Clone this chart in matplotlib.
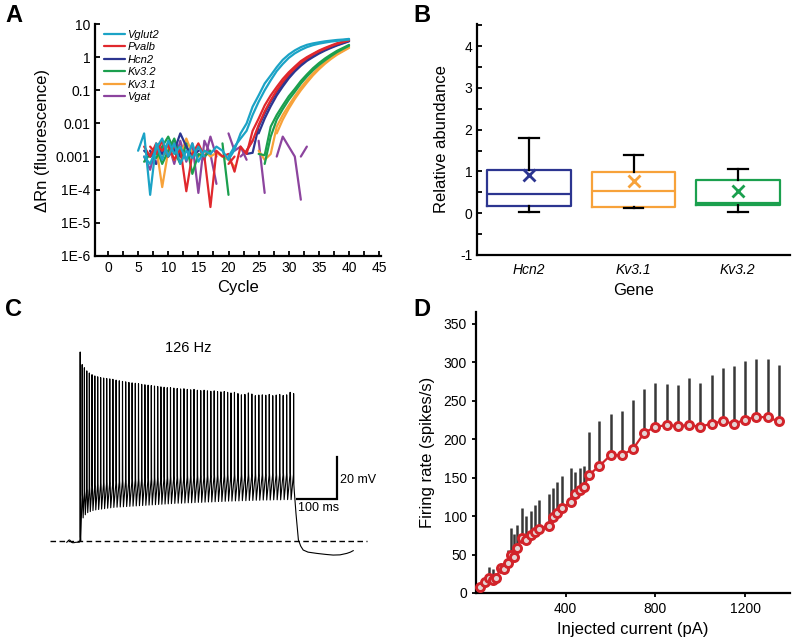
import numpy as np
import matplotlib
matplotlib.use("Agg")
import matplotlib.pyplot as plt
from matplotlib.ticker import MultipleLocator, FixedLocator, NullLocator

plt.rcParams['font.family'] = ['Liberation Sans', 'DejaVu Sans']
plt.rcParams['axes.unicode_minus'] = False
nan = np.nan

# ---------------- Panel A data (ΔRn per cycle, cycles 5..40) ----------------
cycles = list(range(5, 41))
vglut2_a = [1.5e-3, 5e-3, 7e-5, 2.5e-3, 8e-4, 3e-3, 1.2e-3, 2e-3, 8e-4, 2.5e-3, 7e-4, 1.5e-3, 1.2e-3, 2e-3,
            1.5e-3, 8e-4, 1.6e-3, 5e-3, 1e-2, 3.2e-2, 7e-2, 0.16, 0.28, 0.5, 0.83, 1.2, 1.6, 2.0, 2.35, 2.6,
            2.8, 3.0, 3.15, 3.3, 3.4, 3.55]
vglut2_b = [nan, 1e-3, 6e-4, 1.8e-3, 3.5e-3, 1e-3, 2.5e-3, 6e-4, 1.5e-3, 9e-4, 2e-3, 1e-3, nan, nan,
            nan, 1e-3, 2e-3, 3.5e-3, 6e-3, 1.8e-2, 4.5e-2, 0.1, 0.2, 0.38, 0.62, 0.95, 1.3, 1.65, 2.0, 2.3,
            2.55, 2.75, 2.95, 3.1, 3.25, 3.4]
pvalb_a = [nan, 2e-3, 1e-3, 2.5e-3, 1.5e-3, 2.2e-3, 8e-4, 1.8e-3, 9e-5, 1.2e-3, 2.5e-3, 1e-3, 3e-5, 1.5e-3,
           1e-3, 1.2e-3, 3.5e-4, 2e-3, 1.2e-3, 6e-3, 1.4e-2, 3.5e-2, 7e-2, 0.126, 0.22, 0.35, 0.52, 0.76, 1.0,
           1.26, 1.58, 1.9, 2.24, 2.63, 2.95, 3.3]
pvalb_b = [nan, nan, 2e-3, 1.2e-3, 3e-3, 1e-3, 2e-3, nan, nan, nan, nan, nan, nan, nan,
           nan, 6e-4, 1e-3, nan, 1.5e-3, 3e-3, 9e-3, 2.3e-2, 5e-2, 0.1, 0.18, 0.3, 0.46, 0.68, 0.92,
           1.2, 1.5, 1.8, 2.15, 2.5, 2.85, 3.2]
hcn2_a = [nan, 1.5e-3, 1e-3, 2e-3, 1.2e-3, 2.5e-3, 1.5e-3, 5e-3, 2e-3, 1e-3, 1.5e-3, nan, nan, nan,
          nan, nan, nan, nan, 1.2e-3, 1.3e-3, 8e-3, 2e-2, 4.5e-2, 8.9e-2, 0.16, 0.27, 0.42, 0.6, 0.83,
          1.07, 1.35, 1.66, 2.0, 2.34, 2.7, 3.1]
hcn2_b = [nan, nan, 1.5e-3, 6e-4, nan, 1e-3, 2e-3, 1e-3, nan, nan, nan, nan, nan, nan,
          nan, nan, nan, nan, nan, nan, 5e-3, 1.4e-2, 3.3e-2, 7e-2, 0.13, 0.23, 0.37, 0.55, 0.77,
          1.0, 1.28, 1.58, 1.9, 2.25, 2.6, 3.0]
kv32_a = [nan, 7e-4, 1.2e-3, 9e-4, 2e-3, 4e-3, 1.5e-3, 6e-4, 2.5e-3, 3e-4, 1.2e-3, 1e-3, 1.5e-3, nan,
          2.5e-3, 7e-5, nan, nan, nan, nan, 1.2e-3, 1.1e-3, 8e-3, 1.8e-2, 3.5e-2, 6.6e-2, 0.11, 0.19, 0.3,
          0.46, 0.66, 0.91, 1.2, 1.55, 1.9, 2.34]
kv32_b = [nan, nan, 1e-3, 2e-3, 6e-4, 1.5e-3, 3.5e-3, 1e-3, nan, nan, nan, nan, nan, nan,
          nan, nan, nan, nan, nan, nan, nan, 6e-4, 4e-3, 1.3e-2, 2.7e-2, 5.2e-2, 9e-2, 0.16, 0.26,
          0.4, 0.58, 0.8, 1.08, 1.42, 1.78, 2.2]
kv31_a = [nan, nan, 1e-3, 2e-3, 1.2e-4, 1.5e-3, 2.5e-3, 1e-3, 3.5e-3, 1.2e-3, 1e-3, 1.5e-3, 1e-3, 1.3e-3,
          1e-3, 8e-4, 5e-4, nan, nan, nan, 1.5e-3, 8e-4, 1.2e-3, 8e-3, 1.8e-2, 3.5e-2, 6.6e-2, 0.12, 0.2,
          0.32, 0.48, 0.69, 0.95, 1.26, 1.58, 2.0]
kv31_b = [nan, nan, nan, nan, 1e-3, 2e-3, 8e-4, 1.5e-3, nan, nan, nan, nan, nan, nan,
          nan, nan, nan, nan, nan, nan, nan, nan, nan, 5e-3, 1.3e-2, 2.8e-2, 5.5e-2, 0.1, 0.17,
          0.28, 0.43, 0.63, 0.88, 1.18, 1.5, 1.9]
vgat_a = [nan, 1e-3, 4e-4, 2e-3, 1.2e-3, 2.5e-3, 6e-4, 3e-3, 7e-4, 2.5e-3, 8e-5, 3e-3, 1.2e-3, 1.5e-4,
          nan, 5e-3, 1.5e-3, 2e-3, 8e-4, nan, 3e-3, 8e-5, nan, 1e-3, 4e-3, 2e-3, 1e-3, 5e-5, nan,
          nan, nan, nan, nan, nan, nan, nan]
vgat_b = [nan, nan, 1.5e-3, 6e-4, 2e-3, 1e-3, 3e-3, 1.5e-3, nan, 1e-3, 2e-3, 8e-4, 4e-3, 1e-3,
          nan, nan, nan, 1e-3, 1.5e-3, 3e-3, nan, nan, 1e-3, nan, nan, nan, nan, 1e-3, 2e-3,
          nan, nan, nan, nan, nan, nan, nan]

genes_a = ['Vglut2', 'Pvalb', 'Hcn2', 'Kv3.2', 'Kv3.1', 'Vgat']
gene_colors = {'Vglut2': '#1ba3c6', 'Pvalb': '#e0282d', 'Hcn2': '#2c3590',
               'Kv3.2': '#1b9f4e', 'Kv3.1': '#f7a23a', 'Vgat': '#8c449e'}
series_a = {'Vglut2': [vglut2_a, vglut2_b], 'Pvalb': [pvalb_a, pvalb_b], 'Hcn2': [hcn2_a, hcn2_b],
            'Kv3.2': [kv32_a, kv32_b], 'Kv3.1': [kv31_a, kv31_b], 'Vgat': [vgat_a, vgat_b]}
ytick_vals_a = [1e-6, 1e-5, 1e-4, 1e-3, 1e-2, 1e-1, 1, 10]
ytick_labels_a = ['1E-6', '1E-5', '1E-4', '0.001', '0.01', '0.1', '1', '10']

# ---------------- Panel B data ----------------
genes_b = ['Hcn2', 'Kv3.1', 'Kv3.2']
b_q1 = [0.18, 0.15, 0.20]
b_med = [0.45, 0.53, 0.25]
b_q3 = [1.03, 0.99, 0.80]
b_lo = [0.02, 0.13, 0.03]
b_hi = [1.80, 1.40, 1.05]
b_mean = [0.92, 0.77, 0.53]
b_colors = ['#2c3590', '#f7a23a', '#1ba04e']

# ---------------- Panel C data (membrane potential trace) ----------------
isi_ms = [5.0, 5.5, 6.0, 6.4, 6.7, 7.0, 7.2, 7.4, 7.5, 7.6, 7.7, 7.8,
          8.0, 8.0, 8.0, 8.0, 8.0, 8.0, 8.0, 8.0, 8.0, 8.0, 8.0, 8.0, 8.0, 8.0, 8.0, 8.0, 8.0, 8.0,
          8.4, 8.4, 8.4, 8.4, 8.4, 8.4, 8.4, 8.4, 8.4, 8.4, 8.4, 8.4, 8.4, 8.4, 8.4, 8.4, 8.4, 8.4,
          8.7, 8.7, 8.7, 8.7, 8.7, 8.7, 8.7, 8.7, 8.7, 8.7, 8.7, 8.7, 8.7, 8.7, 8.7, 8.7, 8.7, 8.7]
spike_peak = [25, 19, 17.5, 16, 15, 14.2, 13.6, 13.2, 12.8, 12.6,
              12.4, 12.2, 12, 11.6, 11.3, 11, 10.8, 10.5, 10.3, 10.1,
              9.9, 9.6, 9.4, 9.2, 9.0, 8.8, 8.6, 8.4, 8.2, 8.0,
              8.0, 7.8, 7.6, 7.4, 7.5, 7.2, 7.0, 7.2, 6.8, 6.6,
              6.8, 6.5, 6.3, 6.5, 6.2, 6.0, 6.2, 5.8, 5.5, 5.8,
              5.2, 4.6, 4.8, 5.5, 5.0, 4.2, 4.5, 4.6, 4.4, 4.8,
              4.2, 4.5, 4.8, 4.3, 4.6, 5.8, 5.2]
spike_trough = [-58, -54, -52.5, -51.5, -51, -50.5, -50.2, -50, -49.8, -49.6,
                -49.4, -49.2, -49, -48.9, -48.8, -48.7, -48.6, -48.5, -48.4, -48.3,
                -48.2, -48.1, -48, -47.9, -47.8, -47.7, -47.6, -47.5, -47.4, -47.3,
                -47.2, -47.1, -47, -47, -46.9, -46.8, -46.8, -46.7, -46.6, -46.6,
                -46.5, -46.4, -46.4, -46.3, -46.2, -46.2, -46.1, -46, -46, -45.9,
                -45.9, -45.8, -45.8, -45.7, -45.7, -45.6, -45.6, -45.5, -45.5, -45.5,
                -45.4, -45.4, -45.4, -45.3, -45.3, -45.3, -45.2]
spike_thr = [-64, -44, -42, -41, -40, -39.5, -39, -38.6, -38.3, -38,
             -37.8, -37.6, -37.4, -37.2, -37, -36.8, -36.6, -36.4, -36.3, -36.2,
             -36.1, -36, -35.9, -35.8, -35.7, -35.6, -35.5, -35.4, -35.3, -35.2,
             -35.1, -35, -35, -34.9, -34.8, -34.8, -34.7, -34.6, -34.6, -34.5,
             -34.5, -34.4, -34.4, -34.3, -34.3, -34.2, -34.2, -34.1, -34.1, -34,
             -34, -34, -33.9, -33.9, -33.8, -33.8, -33.8, -33.7, -33.7, -33.7,
             -33.6, -33.6, -33.6, -33.5, -33.5, -33.5, -33.4]
pre_t = [-33, -30, -28, -26, -24, -22, -19, -15, -10, -5, -1]
pre_v = [-65.6, -65.0, -64.6, -64.5, -64.9, -65.5, -65.8, -65.8, -65.6, -65.6, -65.5]
post_t = [536, 540, 546, 552, 558, 570, 592, 615, 633, 650, 667, 676, 683]
post_v = [-42, -52, -64.5, -67.5, -69.3, -70.3, -70.9, -71.4, -71.7, -71.6, -70.9, -70.3, -69.6]
baseline_mv = -65

# ---------------- Panel D data ----------------
current_pa = [20, 42, 60, 76, 88, 110, 124, 143, 154, 168, 183, 204, 225, 243, 262, 283, 324, 342, 361,
              382, 424, 443, 462, 483, 502, 550, 600, 650, 700, 750, 800, 850, 900, 950, 1000, 1050,
              1100, 1150, 1200, 1250, 1300, 1350]
rate_mean = [8, 14, 20, 17, 19, 32, 31, 39, 50, 47, 58, 72, 69, 75, 79, 83, 87, 99, 104,
             110, 118, 128, 134, 138, 153, 165, 179, 179, 187, 208, 216, 218, 217, 218, 216, 220,
             223, 220, 225, 229, 228, 223]
rate_upper = [10, 18, 34, 31, 21, 34, 33, 56, 85, 77, 88, 110, 100, 106, 114, 121, 129, 137, 144,
              152, 162, 157, 162, 165, 209, 224, 233, 237, 251, 265, 273, 272, 270, 279, 273, 283,
              292, 295, 302, 304, 304, 296]

# ============================================================================
W, H = 794, 639
fig = plt.figure(figsize=(W / 100, H / 100), dpi=100)


def ax_px(l, t, r, b):
    return fig.add_axes([l / W, 1 - b / H, (r - l) / W, (b - t) / H])


TICK_FS = 10
LAB_FS = 12
SPW = 1.6


def style_spines(ax):
    for s in ['top', 'right']:
        ax.spines[s].set_visible(False)
    for s in ['left', 'bottom']:
        ax.spines[s].set_linewidth(SPW)


# ---------------- Panel A ----------------
axA = ax_px(95, 24, 381, 256)
style_spines(axA)
handles = []
for g in reversed(genes_a):
    for k, ser in enumerate(series_a[g]):
        ln, = axA.plot(cycles, ser, color=gene_colors[g], lw=1.6, solid_capstyle='round')
        if k == 0:
            handles.append((g, ln))
hd = dict(handles)
axA.set_yscale('log')
axA.set_ylim(1e-6, 10)
axA.set_xlim(-2.15, 45.3)
axA.yaxis.set_major_locator(FixedLocator(ytick_vals_a))
axA.set_yticklabels(ytick_labels_a)
axA.yaxis.set_minor_locator(NullLocator())
axA.xaxis.set_major_locator(MultipleLocator(5))
axA.xaxis.set_minor_locator(MultipleLocator(2.5))
axA.tick_params(which='both', direction='in', length=3.5, width=1.3, labelsize=TICK_FS)
axA.set_xlabel('Cycle', fontsize=LAB_FS)
axA.set_ylabel('\u0394Rn (fluorescence)', fontsize=LAB_FS)
axA.legend([hd[g] for g in genes_a], genes_a, loc='upper left', bbox_to_anchor=(0.03, 0.975),
           frameon=False, prop={'style': 'italic', 'size': 8}, handlelength=1.9,
           handletextpad=0.25, labelspacing=0.22, borderpad=0, borderaxespad=0)

# ---------------- Panel B ----------------
axB = ax_px(477, 24, 790, 255)
style_spines(axB)
stats = []
for i, g in enumerate(genes_b):
    stats.append(dict(label=g, q1=b_q1[i], med=b_med[i], q3=b_q3[i], whislo=b_lo[i],
                      whishi=b_hi[i], mean=b_mean[i], fliers=[]))
pos = [1, 2, 3]
bp = axB.bxp(stats, positions=pos, widths=0.8, showmeans=True, showfliers=False,
             whiskerprops=dict(color='black', lw=1.6), capprops=dict(color='black', lw=1.6),
             boxprops=dict(lw=1.6), medianprops=dict(lw=1.6),
             meanprops=dict(marker='x', markersize=9, markeredgewidth=2), capwidths=0.19)
for i in range(3):
    c = b_colors[i]
    bp['boxes'][i].set_color(c)
    bp['medians'][i].set_color(c)
    bp['means'][i].set_markeredgecolor(c)
    bp['means'][i].set_markerfacecolor(c)
axB.set_xlim(0.5, 3.5)
axB.set_ylim(-1, 4.53)
axB.yaxis.set_major_locator(MultipleLocator(1))
axB.yaxis.set_minor_locator(MultipleLocator(0.5))
axB.tick_params(axis='y', which='both', direction='in', length=3.5, width=1.3, labelsize=TICK_FS)
axB.tick_params(axis='x', length=0, labelsize=TICK_FS, pad=6)
axB.set_xticks(pos)
axB.set_xticklabels(genes_b, style='italic')
axB.set_xlabel('Gene', fontsize=LAB_FS)
axB.set_ylabel('Relative abundance', fontsize=LAB_FS, labelpad=8)

# ---------------- Panel C ----------------
PX_PER_MS = 0.4
PX_PER_MV = 2.1
T0_PX = 80       # x pixel of stimulus onset / first spike
BASE_PX = 541    # y pixel of baseline
cl, ct, cr, cb = 40, 320, 380, 600
axC = ax_px(cl, ct, cr, cb)
axC.set_xlim((cl - T0_PX) / PX_PER_MS, (cr - T0_PX) / PX_PER_MS)
axC.set_ylim(baseline_mv - (cb - BASE_PX) / PX_PER_MV, baseline_mv + (BASE_PX - ct) / PX_PER_MV)
axC.axis('off')

spike_t = np.concatenate([[0.0], np.cumsum(isi_ms)])
tt = list(pre_t)
vv = list(pre_v)
n = len(spike_t)
for i in range(n):
    t0 = spike_t[i]
    tt += [t0, t0 + 0.45]
    vv += [spike_thr[i], spike_peak[i]]
    if i < n - 1:
        # repolarisation with an afterdepolarisation shoulder, then the trough
        tt += [t0 + 1.1, t0 + 1.6, t0 + 2.8]
        vv += [spike_thr[i] + 1, spike_thr[i] - 1, spike_trough[i]]
    else:
        tt += [t0 + 1.0]
        vv += [-38]
tt += post_t
vv += post_v
axC.plot(tt, vv, color='black', lw=0.8)
axC.plot([(50 - T0_PX) / PX_PER_MS, (367 - T0_PX) / PX_PER_MS], [baseline_mv, baseline_mv],
         color='black', lw=1.0, ls=(0, (4, 2.5)))
# scale bar: 100 ms, 20 mV
sb_x1 = 642.5
sb_y = -45
axC.plot([sb_x1 - 100, sb_x1, sb_x1], [sb_y, sb_y, sb_y + 20], color='black', lw=1.6,
         solid_joinstyle='miter')
axC.text(sb_x1 + 7, sb_y + 9, '20 mV', fontsize=9, va='center', ha='left')
axC.text(sb_x1 - 97, sb_y - 1.5, '100 ms', fontsize=9, va='top', ha='left')
axC.text(270, 27, '126 Hz', fontsize=10.5, ha='center', va='center')

# ---------------- Panel D ----------------
axD = ax_px(476, 312, 790, 593)
style_spines(axD)
axD.vlines(current_pa, rate_mean, rate_upper, color='#383838', lw=1.8, zorder=1)
axD.plot(current_pa, rate_mean, '-o', color='#d2232a', lw=1.6, ms=5.8, mew=2.1,
         mfc='#e4d4d4', mec='#d2232a', zorder=3, clip_on=False)
axD.set_xlim(0, 1400)
axD.set_ylim(0, 365)
axD.set_xticks([400, 800, 1200])
axD.yaxis.set_major_locator(MultipleLocator(50))
axD.tick_params(which='both', direction='out', length=3, width=1.3, labelsize=TICK_FS)
axD.set_xlabel('Injected current (pA)', fontsize=LAB_FS)
axD.set_ylabel('Firing rate (spikes/s)', fontsize=LAB_FS, labelpad=6)

# ---------------- Panel letters ----------------
for lab, x, y in [('A', 5, 4), ('B', 413, 4), ('C', 5, 298), ('D', 413, 298)]:
    fig.text(x / W, 1 - y / H, lab, fontsize=17, fontweight='bold', ha='left', va='top')

fig.savefig('out.png', dpi=100)
